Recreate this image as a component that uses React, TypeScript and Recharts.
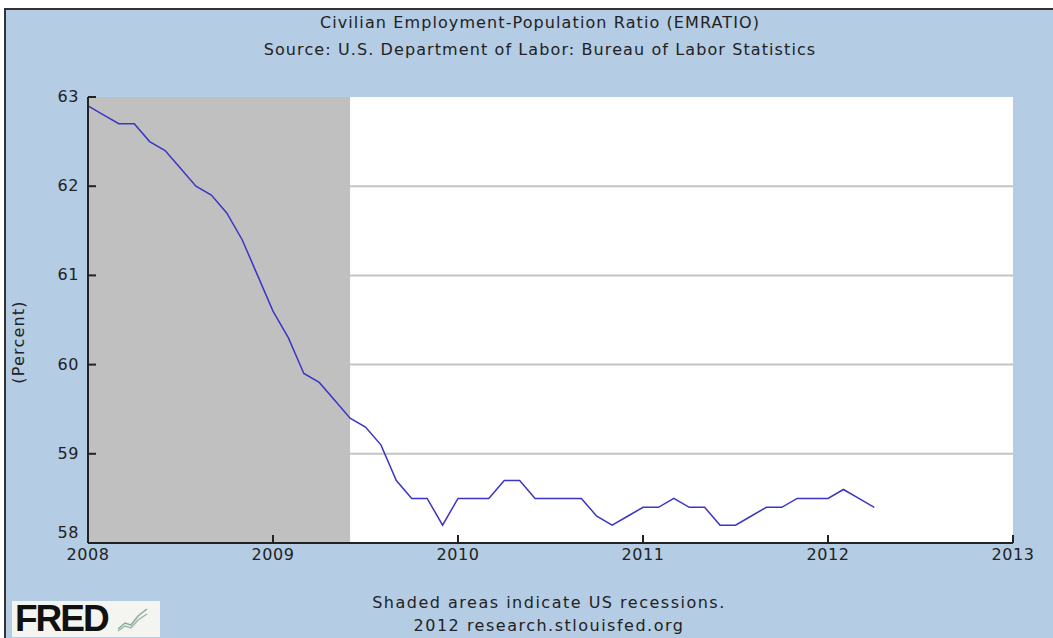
import React from "react";
import {
  CartesianGrid,
  Line,
  LineChart,
  ReferenceArea,
  ReferenceLine,
  XAxis,
  YAxis,
} from "recharts";

// monthly observations, Jan 2008 .. Apr 2012
const months = [
  "2008-01", "2008-02", "2008-03", "2008-04", "2008-05", "2008-06",
  "2008-07", "2008-08", "2008-09", "2008-10", "2008-11", "2008-12",
  "2009-01", "2009-02", "2009-03", "2009-04", "2009-05", "2009-06",
  "2009-07", "2009-08", "2009-09", "2009-10", "2009-11", "2009-12",
  "2010-01", "2010-02", "2010-03", "2010-04", "2010-05", "2010-06",
  "2010-07", "2010-08", "2010-09", "2010-10", "2010-11", "2010-12",
  "2011-01", "2011-02", "2011-03", "2011-04", "2011-05", "2011-06",
  "2011-07", "2011-08", "2011-09", "2011-10", "2011-11", "2011-12",
  "2012-01", "2012-02", "2012-03", "2012-04",
];

const emratio = [
  62.9, 62.8, 62.7, 62.7, 62.5, 62.4, 62.2, 62.0, 61.9, 61.7, 61.4, 61.0,
  60.6, 60.3, 59.9, 59.8, 59.6, 59.4, 59.3, 59.1, 58.7, 58.5, 58.5, 58.2,
  58.5, 58.5, 58.5, 58.7, 58.7, 58.5, 58.5, 58.5, 58.5, 58.3, 58.2, 58.3,
  58.4, 58.4, 58.5, 58.4, 58.4, 58.2, 58.2, 58.3, 58.4, 58.4, 58.5, 58.5,
  58.5, 58.6, 58.5, 58.4,
];

const yearTicks = [2008, 2009, 2010, 2011, 2012, 2013];
const percentTicks = [58, 59, 60, 61, 62, 63];
const gridValues = [59, 60, 61, 62];

// recession shading (Dec 2007 - Jun 2009), clipped to the chart range
const recessionStart = 2008;
const recessionEnd = 2009 + 5 / 12;

const toYear = (m: string) => {
  const [y, mo] = m.split("-").map(Number);
  return y + (mo - 1) / 12;
};

const data = months.map((m, i) => ({ t: toYear(m), value: emratio[i] }));

const FONT = "'DejaVu Sans', Verdana, sans-serif";
const INK = "#222";
const FS = 16;

const XTick = (props: any) => {
  const { x, y, payload } = props;
  return (
    <g>
      <line x1={x} y1={y} x2={x} y2={y - 8} stroke={INK} strokeWidth={2} />
      <text x={x} y={y + 17} textAnchor="middle" fontSize={FS} letterSpacing={0.6} fill={INK} fontFamily={FONT}>
        {payload.value}
      </text>
    </g>
  );
};

const YTick = (props: any) => {
  const { x, y, payload } = props;
  const lift = payload.value === 58 ? -10 : 0;
  return (
    <g>
      <line x1={x} y1={y} x2={x + 8} y2={y} stroke={INK} strokeWidth={2} />
      <text x={x - 9} y={y + 5 + lift} textAnchor="end" fontSize={FS} letterSpacing={0.6} fill={INK} fontFamily={FONT}>
        {payload.value}
      </text>
    </g>
  );
};

export default function App() {
  return (
    <div style={{ position: "absolute", left: 0, top: 0, width: 1053, height: 638, background: "#fff", fontFamily: FONT, overflow: "hidden" }}>
      <div
        style={{
          position: "absolute",
          left: 4,
          top: 8,
          right: 0,
          bottom: 0,
          background: "#b4cce4",
          borderTop: "2px solid #333",
          borderLeft: "2px solid #333",
        }}
      />
      <div style={{ position: "absolute", left: 0, top: 0 }}>
        <LineChart width={1053} height={638} data={data} margin={{ top: 97, right: 40, bottom: 65, left: 0 }}>
          <CartesianGrid vertical={false} horizontal={false} fill="#fff" />
          <ReferenceArea
            x1={recessionStart}
            x2={recessionEnd}
            fill="#c0c0c0"
            fillOpacity={1}
            stroke="none"
          />
          {gridValues.map((v) => (
            <ReferenceLine
              key={v}
              segment={[
                { x: recessionEnd, y: v },
                { x: 2013, y: v },
              ]}
              stroke="#c4c4c4"
              strokeWidth={2}
            />
          ))}
          <XAxis
            dataKey="t"
            type="number"
            domain={[2008, 2013]}
            ticks={yearTicks}
            allowDecimals={false}
            height={30}
            tickSize={0}
            tickMargin={0}
            tickLine={false}
            axisLine={{ stroke: INK, strokeWidth: 2 }}
            tick={<XTick />}
            interval={0}
          />
          <YAxis
            type="number"
            domain={[58, 63]}
            ticks={percentTicks}
            width={88}
            tickSize={0}
            tickMargin={0}
            tickLine={false}
            axisLine={{ stroke: INK, strokeWidth: 2 }}
            tick={<YTick />}
            interval={0}
          />
          <Line
            type="linear"
            dataKey="value"
            stroke="#3a36c4"
            strokeWidth={1.5}
            dot={false}
            isAnimationActive={false}
          />
        </LineChart>
      </div>
      <div style={{ position: "absolute", left: 0, width: 1080, top: 9, textAlign: "center", fontSize: FS, letterSpacing: 1.1, color: INK, lineHeight: "27px" }}>
        <div>Civilian Employment-Population Ratio (EMRATIO)</div>
        <div>Source: U.S. Department of Labor: Bureau of Labor Statistics</div>
      </div>
      <div
        style={{
          position: "absolute",
          left: 18,
          top: 342,
          transform: "translate(-50%, -50%) rotate(-90deg)",
          fontSize: FS,
          letterSpacing: 1.2,
          color: INK,
          whiteSpace: "nowrap",
        }}
      >
        (Percent)
      </div>
      <div style={{ position: "absolute", left: 0, width: 1098, top: 591, textAlign: "center", fontSize: FS, letterSpacing: 1.5, color: INK, lineHeight: "23px" }}>
        <div>Shaded areas indicate US recessions.</div>
        <div>2012 research.stlouisfed.org</div>
      </div>
      <div
        style={{
          position: "absolute",
          left: 12,
          top: 601,
          width: 148,
          height: 36,
          background: "#f4f4f0",
          display: "flex",
          alignItems: "center",
        }}
      >
        <span style={{ fontFamily: "'Liberation Sans', Arial, sans-serif", fontWeight: 900, fontSize: 37, letterSpacing: -2, color: "#111", marginLeft: 3, lineHeight: "30px" }}>
          FRED
        </span>
        <svg width={34} height={28} style={{ marginLeft: 8 }}>
          <polyline points="2,24 9,18 15,20 22,11 31,4" fill="none" stroke="#8aa" strokeWidth={1.5} />
          <polyline points="2,26 9,21 15,23 22,15 31,9" fill="none" stroke="#9b9" strokeWidth={1.5} />
        </svg>
      </div>
    </div>
  );
}
